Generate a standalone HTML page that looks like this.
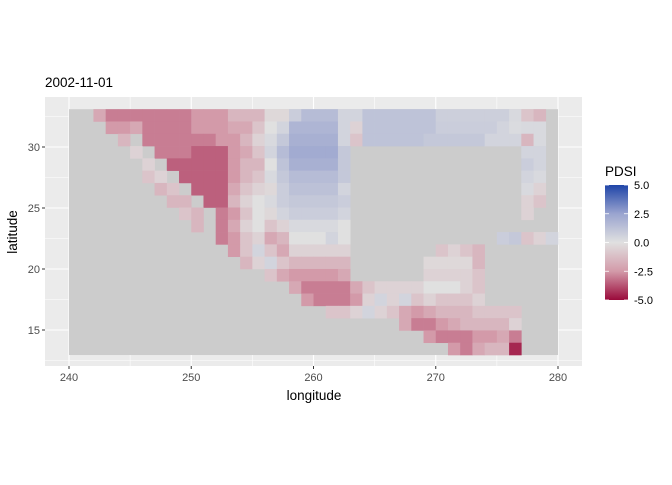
<!DOCTYPE html>
<html><head><meta charset="utf-8"><style>
body{margin:0;background:#fff;width:672px;height:480px;overflow:hidden;font-family:"Liberation Sans","DejaVu Sans",sans-serif}
</style></head><body>
<svg id="chart" width="672" height="480" xmlns="http://www.w3.org/2000/svg">
<defs><linearGradient id="lg" x1="0" y1="0" x2="0" y2="1">
<stop offset="0" stop-color="#1f45a8"/><stop offset="0.25" stop-color="#9aa4cf"/><stop offset="0.5" stop-color="#e0e0e0"/><stop offset="0.75" stop-color="#d39aa9"/><stop offset="1" stop-color="#9a0a3a"/></linearGradient></defs>
<rect x="45" y="97" width="537" height="269" fill="#ebebeb"/>
<g id="grid"></g>
<g id="cells"></g>
<g id="axes"></g>
<text x="45" y="87" font-size="13.5" fill="#000">2002-11-01</text>
<text x="314" y="400" font-size="13.5" text-anchor="middle">longitude</text>
<text transform="translate(17,232) rotate(-90)" font-size="13.5" text-anchor="middle">latitude</text>
<g>
<text x="605" y="176" font-size="13.5">PDSI</text>
<rect x="605" y="185" width="23" height="115" fill="url(#lg)"/>
<g id="legend-ticks"></g>
</g>
</svg>
<script>
const N = null;
const lonStart = 240;
const latTop = 33.1, latBottom = 12.95;
const xTicks = [240, 250, 260, 270, 280];
const yTicks = [15, 20, 25, 30];
const legendTicks = [5, 2.5, 0, -2.5, -5];
const legendLabels = ["5.0", "2.5", "0.0", "-2.5", "-5.0"];
const r00=[N,N,-2,-3,-3,-3,-3,-3,-3,-3,-2.5,-2.5,-2.5,-1.5,-1.5,-1.5,-0.3,-0.3,0.8,1.5,1.5,1.5,0.5,0.5,1.2,1.2,1.2,1.2,1.2,1.2,0.7,0.7,0.7,0.7,0.7,0.7,0.3,-1,-1.5,N];
const r01=[N,N,N,-2.5,-2.5,-2,-3,-3,-3,-3,-2.5,-2.5,-2.5,-2,-2,-1,0,0.5,1.8,1.8,1.8,1.8,0.5,-0.5,1.2,1.2,1.2,1.2,1.2,1.2,0.8,0.8,0.8,0.8,0.8,0.5,0.2,0.3,0.3,N];
const r02=[N,N,N,N,-1.5,N,-3,-3,-3,-3,-3,-3,-2.5,-2.5,-1.5,-0.5,0.3,1,2,2,2,2,0.5,-1,1.2,1.2,1.2,1.2,1.2,1,1,1,1,1,0.5,0.5,0.5,-1.5,0.3,N];
const r03=[N,N,N,N,N,-0.5,N,-3,-3,-3,-3.5,-3.5,-3.5,-2.5,-2,-1,0.5,1.5,2.2,2.2,2.2,2.2,1,N,N,N,N,N,N,N,N,N,N,N,N,N,N,0.5,0.5,N];
const r04=[N,N,N,N,N,N,-0.5,N,-3.5,-3.5,-3.5,-3.5,-3.5,-2.5,-1.5,-1.5,0,1.2,2,2,2,2,1,N,N,N,N,N,N,N,N,N,N,N,N,N,N,0.8,0.5,N];
const r05=[N,N,N,N,N,N,-1,-0.5,N,-3.5,-3.5,-3.5,-3.5,-2.5,-1.5,-1,0.3,1,1.5,1.5,1.5,1.5,1,N,N,N,N,N,N,N,N,N,N,N,N,N,N,0.5,0.3,N];
const r06=[N,N,N,N,N,N,N,-1.5,-1,N,-3.5,-3.5,-3.5,-2,-1,-0.5,-0.3,0.8,1.3,1.3,1.3,1.3,0.5,N,N,N,N,N,N,N,N,N,N,N,N,N,N,0.3,-0.5,N];
const r07=[N,N,N,N,N,N,N,N,-1.5,-1.5,N,-3.5,-3.5,-1.5,-0.5,0,0.3,0.8,1,1,1,1,0.8,N,N,N,N,N,N,N,N,N,N,N,N,N,N,-0.5,-1,N];
const r08=[N,N,N,N,N,N,N,N,N,-1,-1.5,N,-3,-2.5,-1,0,-0.3,0.5,0.8,0.8,0.8,0.8,0.5,N,N,N,N,N,N,N,N,N,N,N,N,N,N,-0.5,N,N];
const r09=[N,N,N,N,N,N,N,N,N,N,-1.5,N,-3,-2,-0.5,0,-1,-0.5,0.3,0.3,0.3,0.3,0,N,N,N,N,N,N,N,N,N,N,N,N,N,N,N,N,N];
const r10=[N,N,N,N,N,N,N,N,N,N,N,N,-3,-2.5,-1,-0.5,-2,-1.5,0,0,0,0.5,0,N,N,N,N,N,N,N,N,N,N,N,N,0.8,1,-1,-0.5,0.5];
const r11=[N,N,N,N,N,N,N,N,N,N,N,N,N,-2.5,-1,0.5,-1,-2,-0.5,-0.5,-0.5,-0.5,-0.5,N,N,N,N,N,N,N,-1,-0.5,-1,-1.5,N,N,N,N,N,N];
const r12=[N,N,N,N,N,N,N,N,N,N,N,N,N,N,-1.5,-0.5,0.5,-1,-1.5,-1.5,-1.5,-1.5,-1.5,N,N,N,N,N,N,-0.3,-0.3,-0.3,-0.3,-1.5,N,N,N,N,N,N];
const r13=[N,N,N,N,N,N,N,N,N,N,N,N,N,N,N,N,-1,-2,-2.5,-2.5,-2.5,-2.5,-2,N,N,N,N,N,N,-0.5,-0.5,-0.5,-0.5,-1,N,N,N,N,N,N];
const r14=[N,N,N,N,N,N,N,N,N,N,N,N,N,N,N,N,N,N,-2,-3,-3,-3,-3,-2,-1,-0.5,-0.5,-0.5,-0.5,0,0,0,-0.5,-1,N,N,N,N,N,N];
const r15=[N,N,N,N,N,N,N,N,N,N,N,N,N,N,N,N,N,N,N,-2.5,-3,-3,-3,-2.5,-0.5,0.5,-0.5,0.5,-1,-0.5,-1,-1,-1,-0.5,N,N,N,N,N,N];
const r16=[N,N,N,N,N,N,N,N,N,N,N,N,N,N,N,N,N,N,N,N,N,-1,-1,-0.5,0.5,-0.5,-1,-2,-2.5,-2,-1.5,-1.5,-1.5,-1,-1,-1,-1,N,N,N];
const r17=[N,N,N,N,N,N,N,N,N,N,N,N,N,N,N,N,N,N,N,N,N,N,N,N,N,N,N,-2,-3,-3,-2.5,-2,-1.5,-1.5,-1.5,-1.5,-0.5,N,N,N];
const r18=[N,N,N,N,N,N,N,N,N,N,N,N,N,N,N,N,N,N,N,N,N,N,N,N,N,N,N,N,N,-2.5,-3,-3,-3,-2.5,-2.5,-2,-3,N,N,N];
const r19=[N,N,N,N,N,N,N,N,N,N,N,N,N,N,N,N,N,N,N,N,N,N,N,N,N,N,N,N,N,N,N,-2.5,-3,-2,-1.5,-1.5,-4.5,N,N,N];
const pdsiRows=[r00,r01,r02,r03,r04,r05,r06,r07,r08,r09,r10,r11,r12,r13,r14,r15,r16,r17,r18,r19];

const xS = lon => 69 + (lon - 240) * 12.225;
const yS = lat => 147 - (lat - 30) * 12.2;
const NS = "http://www.w3.org/2000/svg";
function mix(a,b,t){return a.map((v,i)=>Math.round(v+(b[i]-v)*t));}
function color(v){
  const hi=[31,69,168], mhi=[154,164,207], mid=[224,224,224], mlo=[211,154,169], lo=[154,10,58];
  v=Math.max(-5,Math.min(5,v));
  let c;
  if(v>=2.5)c=mix(mhi,hi,(v-2.5)/2.5);
  else if(v>=0)c=mix(mid,mhi,v/2.5);
  else if(v>=-2.5)c=mix(mid,mlo,-v/2.5);
  else c=mix(mlo,lo,(-v-2.5)/2.5);
  return `rgb(${c[0]},${c[1]},${c[2]})`;
}
function el(tag,attrs,parent){const e=document.createElementNS(NS,tag);for(const k in attrs)e.setAttribute(k,attrs[k]);parent.appendChild(e);return e;}

const grid=document.getElementById('grid');
for(let lon=240;lon<=280;lon+=5){
  const g=el('line',{x1:xS(lon),x2:xS(lon),y1:97,y2:366,stroke:'#fff','stroke-width':lon%10===0?1.1:0.55},grid);
  
  
}
for(let lat=12.5;lat<=35;lat+=2.5){
  const y=yS(lat); if(y<97||y>366)continue;
  const g=el('line',{x1:45,x2:582,y1:y,y2:y,stroke:'#fff','stroke-width':lat%5===0?1.1:0.55},grid);
  
  
}

const cells=document.getElementById('cells');
const nRows=pdsiRows.length, band=(latTop-latBottom)/nRows;
const bg=el('rect',{x:xS(240),y:yS(latTop),width:xS(280)-xS(240),height:yS(latBottom)-yS(latTop),fill:'#cccccc'},cells);


pdsiRows.forEach((row,j)=>{
  const top=latTop-j*band, bot=top-band;
  row.forEach((v,i)=>{
    if(v===null)return;
    const x0=xS(lonStart+i), x1=xS(lonStart+i+1);
    const r=el('rect',{x:x0,y:yS(top),width:x1-x0+0.3,height:yS(bot)-yS(top)+0.3,fill:color(v)},cells);
    
    
  });
});

const axes=document.getElementById('axes');
xTicks.forEach(t=>{
  const l=el('line',{x1:xS(t),x2:xS(t),y1:366,y2:369,stroke:'#333'},axes);
  
  
  const tx=el('text',{x:xS(t),y:381,'font-size':11,'text-anchor':'middle',fill:'#4d4d4d'},axes);
  tx.textContent=t;
  
  
});
yTicks.forEach(t=>{
  const l=el('line',{x1:42,x2:45,y1:yS(t),y2:yS(t),stroke:'#333'},axes);
  
  
  const tx=el('text',{x:40,y:yS(t)+4,'font-size':11,'text-anchor':'end',fill:'#4d4d4d'},axes);
  tx.textContent=t;
  
  
});
const lt=document.getElementById('legend-ticks');
legendTicks.forEach((t,k)=>{
  const y=185+(5-t)/10*115;
  const a=el('line',{x1:605,x2:609,y1:y,y2:y,stroke:'#fff','stroke-width':0.8},lt);
  
  
  const b=el('line',{x1:624,x2:628,y1:y,y2:y,stroke:'#fff','stroke-width':0.8},lt);
  
  
  const tx=el('text',{x:634,y:y+4,'font-size':11,fill:'#000'},lt);
  tx.textContent=legendLabels[k];
  
  
});
</script>
</body></html>
